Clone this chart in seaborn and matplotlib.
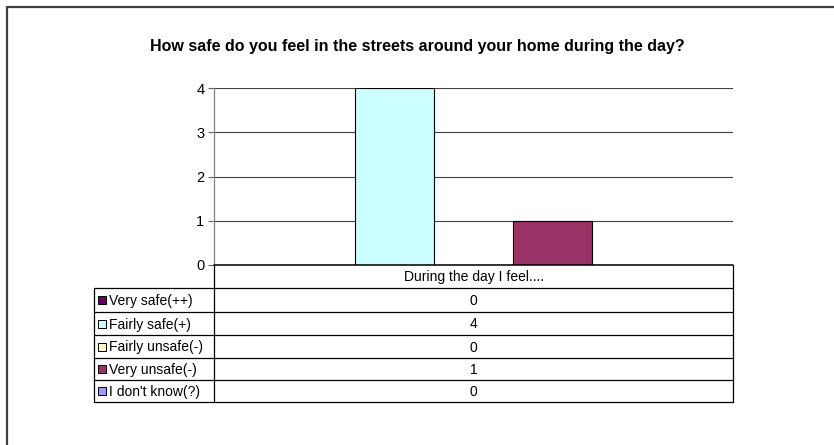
import numpy as np
import pandas as pd
import matplotlib
matplotlib.use('Agg')
import matplotlib.pyplot as plt
from matplotlib.lines import Line2D
from matplotlib.patches import Rectangle
import seaborn as sns

# data
title = 'How safe do you feel in the streets around your home during the day?'
group = 'During the day I feel....'
responses = ['Very safe(++)', 'Fairly safe(+)', 'Fairly unsafe(-)', 'Very unsafe(-)', "I don't know(?)"]
counts = [0, 4, 0, 1, 0]
colors = ['#660066', '#CCFFFF', '#FFFFCC', '#993366', '#9999FF']

sns.set_style('white')
plt.rcParams['font.family'] = ['Liberation Sans', 'DejaVu Sans']
plt.rcParams['text.color'] = 'black'
plt.rcParams['ytick.color'] = 'black'
plt.rcParams['ytick.labelcolor'] = 'black'

W, H = 834, 445
fig = plt.figure(figsize=(W / 100, H / 100), dpi=100)

def fx(x):
    return x / W

def fy(y):
    return 1 - y / H

def line(x0, y0, x1, y1, color='black', lw=0.9):
    fig.add_artist(Line2D([fx(x0), fx(x1)], [fy(y0), fy(y1)], color=color, lw=lw,
                          transform=fig.transFigure))

# outer frame (left and top)
line(7, 7, 7, H, color='#404040', lw=1.6)
line(7, 7, W, 7, color='#404040', lw=1.6)

fig.text(fx(417), fy(47), title, ha='center', va='center', fontsize=11.5, fontweight='bold')

# plot area
L, R, T, B = 214, 733, 88, 265
ax = fig.add_axes([fx(L), fy(B), (R - L) / W, (B - T) / H])
df = pd.DataFrame({'group': [group] * len(responses), 'response': responses, 'count': counts})
sns.barplot(data=df, x='group', y='count', hue='response', hue_order=responses,
            palette=colors, saturation=1, width=0.76, edgecolor='black', linewidth=0.8,
            legend=False, ax=ax)
ax.set_xlim(-0.5, 0.5)
ax.set_ylim(0, 4)
ax.set_yticks(range(5))
ax.tick_params(axis='y', which='both', left=True, length=4, width=0.8, color='#606060',
               labelsize=10.5, labelcolor='black', pad=3)
ax.set_xticks([])
ax.set_xlabel('')
ax.set_ylabel('')
ax.yaxis.grid(True, color='#404040', lw=0.8)
ax.set_axisbelow(True)
for s in ['top', 'right', 'bottom']:
    ax.spines[s].set_visible(False)
ax.spines['left'].set_color('#808080')
ax.spines['left'].set_linewidth(0.9)

# data table under the chart
rows = [265, 288, 312, 335, 358, 380, 402]
TL = 94
line(L, rows[0], R, rows[0], lw=1.1)
for y in rows[1:]:
    line(TL, y, R, y)
line(L, rows[0], L, rows[-1])
line(R, rows[0], R, rows[-1])
line(TL, rows[1], TL, rows[-1])

mid = (L + R) / 2
fig.text(fx(mid), fy((rows[0] + rows[1]) / 2 + 1), group, ha='center', va='center', fontsize=10)
for i, (lab, val, col) in enumerate(zip(responses, counts, colors)):
    yc = (rows[i + 1] + rows[i + 2]) / 2
    fig.add_artist(Rectangle((fx(98), fy(yc + 4)), 8 / W, 8 / H, facecolor=col,
                             edgecolor='black', lw=0.7, transform=fig.transFigure))
    fig.text(fx(109), fy(yc + 1), lab, ha='left', va='center', fontsize=10)
    fig.text(fx(mid), fy(yc + 1), str(val), ha='center', va='center', fontsize=10)

fig.savefig('out.png', dpi=100)
